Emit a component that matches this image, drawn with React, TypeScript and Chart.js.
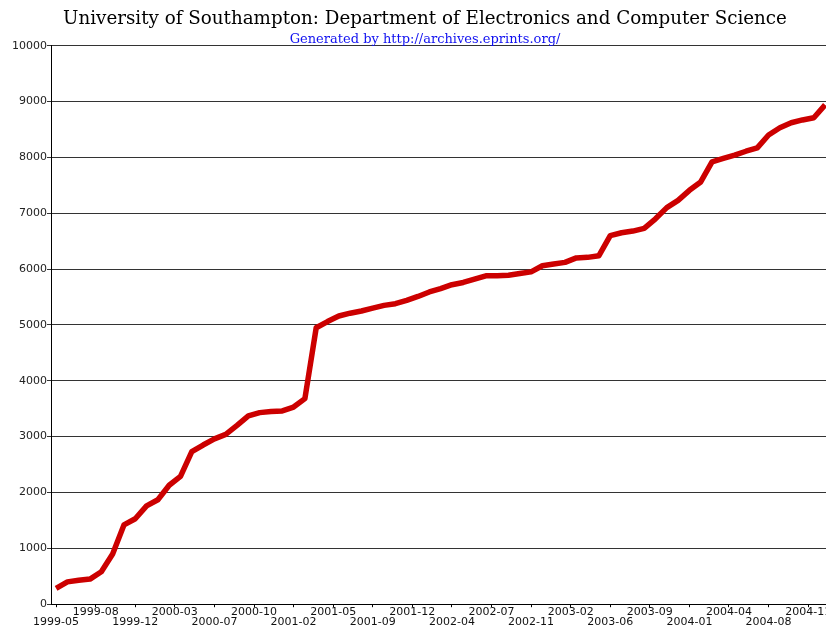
import React, { useEffect, useRef } from "react";
import { Chart, registerables } from "chart.js";

Chart.register(...registerables);

const monthLabels = [
  "1999-05","1999-06","1999-07","1999-08","1999-09","1999-10","1999-11","1999-12",
  "2000-01","2000-02","2000-03","2000-04","2000-05","2000-06","2000-07","2000-08","2000-09","2000-10","2000-11","2000-12",
  "2001-01","2001-02","2001-03","2001-04","2001-05","2001-06","2001-07","2001-08","2001-09","2001-10","2001-11","2001-12",
  "2002-01","2002-02","2002-03","2002-04","2002-05","2002-06","2002-07","2002-08","2002-09","2002-10","2002-11","2002-12",
  "2003-01","2003-02","2003-03","2003-04","2003-05","2003-06","2003-07","2003-08","2003-09","2003-10","2003-11","2003-12",
  "2004-01","2004-02","2004-03","2004-04","2004-05","2004-06","2004-07","2004-08","2004-09","2004-10","2004-11","2004-12",
  "2005-01",
];

const depositCounts = [
  285, 400, 430, 450, 580, 900, 1420, 1530, 1760, 1870,
  2130, 2290, 2730, 2850, 2960, 3040, 3200, 3370, 3430, 3450,
  3460, 3530, 3680, 4950, 5060, 5160, 5210, 5250, 5300, 5350,
  5380, 5440, 5510, 5590, 5650, 5720, 5760, 5820, 5880, 5880,
  5890, 5920, 5950, 6060, 6090, 6120, 6200, 6210, 6240, 6600,
  6650, 6680, 6730, 6900, 7100, 7230, 7410, 7560, 7920, 7980,
  8040, 8110, 8170, 8400, 8530, 8620, 8670, 8710, 8940,
];

const xTickLabels = [
  "1999-05","1999-08","1999-12","2000-03","2000-07","2000-10","2001-02","2001-05",
  "2001-09","2001-12","2002-04","2002-07","2002-11","2003-02","2003-06","2003-09",
  "2004-01","2004-04","2004-08","2004-11",
];
const xTickStep = 3.5;

const titleText = "University of Southampton: Department of Electronics and Computer Science";
const subtitleText = "Generated by http://archives.eprints.org/";

export default function App() {
  const ref = useRef<HTMLCanvasElement | null>(null);

  useEffect(() => {
    if (!ref.current) return;
    Chart.defaults.font.family = "'DejaVu Sans', sans-serif";
    const points = depositCounts.map((v, i) => ({ x: i, y: v }));
    const chart = new Chart(ref.current, {
      type: "line",
      data: {
        labels: monthLabels,
        datasets: [
          {
            data: points,
            borderColor: "#cc0000",
            borderWidth: 5.5,
            pointRadius: 0,
            tension: 0,
            borderJoinStyle: "round",
            borderCapStyle: "butt",
            fill: false,
          },
        ],
      },
      options: {
        animation: false,
        responsive: false,
        maintainAspectRatio: false,
        layout: { padding: { left: 0, right: 0, top: 0, bottom: 0 } },
        plugins: {
          legend: { display: false },
          tooltip: { enabled: false },
          title: {
            display: true,
            text: titleText,
            color: "#000",
            font: { family: "'DejaVu Serif', serif", size: 18.3, weight: "normal", lineHeight: 1.2 },
            padding: { top: 8, bottom: 0 },
          },
          subtitle: {
            display: true,
            text: subtitleText,
            color: "#1010f0",
            font: { family: "'DejaVu Serif', serif", size: 13, weight: "normal", lineHeight: 1 },
            padding: { top: 2.7, bottom: 0 },
          },
        },
        scales: {
          x: {
            type: "linear",
            min: -0.45,
            max: 70.2,
            afterBuildTicks: (scale: any) => {
              scale.ticks = xTickLabels.map((_, i) => ({ value: i * xTickStep }));
            },
            afterFit: (scale: any) => {
              scale.paddingRight = 0;
              scale.paddingLeft = 0;
            },
            ticks: {
              autoSkip: false,
              maxRotation: 0,
              minRotation: 0,
              padding: 0,
              color: "#111",
              font: { size: 11, lineHeight: 0.9 },
              callback: (value: any) => {
                const idx = Math.round(Number(value) / xTickStep);
                const lab = xTickLabels[idx] ?? "";
                return idx % 2 === 0 ? ["", lab] : [lab, ""];
              },
            },
            grid: {
              drawOnChartArea: false,
              drawTicks: true,
              tickLength: 3,
              color: "#000",
            },
            border: { display: true, color: "#000", width: 1 },
          },
          y: {
            min: 0,
            max: 10000,
            afterFit: (scale: any) => {
              scale.width = 51;
            },
            ticks: {
              stepSize: 1000,
              padding: 0,
              color: "#222",
              font: { size: 11 },
              callback: (value: any) => String(value),
            },
            grid: {
              color: "#333",
              lineWidth: 1,
              tickLength: 4,
            },
            border: { display: true, color: "#000", width: 1 },
          },
        },
      },
    });
    return () => chart.destroy();
  }, []);

  return (
    <div style={{ position: "fixed", left: 0, top: 0, width: 826, height: 627, overflow: "hidden", background: "#fff" }}>
      <canvas ref={ref} width={850} height={627} style={{ display: "block" }} />
    </div>
  );
}
